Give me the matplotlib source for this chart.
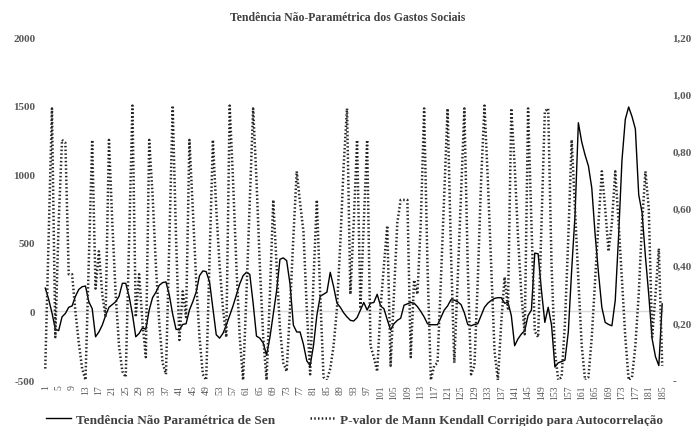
import matplotlib
matplotlib.use("Agg")
import matplotlib.pyplot as plt

# periods 1..185
periodos = list(range(1, 186))

# Tendência não paramétrica de Sen (eixo esquerdo)
sen = [
    170, 90, -10, -130, -140, -40, -15, 30, 40, 110,
    160, 180, 185, 70, 20, -185, -150, -100, -30, 30,
    50, 70, 110, 205, 205, 110, -20, -185, -160, -120,
    -130, 10, 100, 140, 190, 210, 215, 120, -20, -130,
    -135, -95, -90, 10, 70, 140, 260, 295, 290, 215,
    20, -170, -195, -160, -100, -30, 40, 120, 200, 260,
    285, 270, 60, -180, -195, -230, -320, -190, -20, 150,
    380, 390, 370, 200, -100, -150, -150, -240, -360, -395,
    -250, -30, 110, 125, 140, 285, 180, 60, 30, -10,
    -40, -65, -70, -45, 10, 65, 10, 60, 65, 125,
    40, 20, -60, -135, -90, -65, -50, 45, 55, 65,
    60, 35, 0, -40, -90, -97, -97, -97, -45, 10,
    40, 85, 82, 70, 50, -10, -95, -105, -95, -90,
    -30, 30, 60, 80, 95, 100, 100, 60, 65, -30,
    -250, -200, -165, -140, -30, 10, 425, 420, 150, -80,
    30, -100, -405, -375, -365, -355, -150, 300, 700, 1375,
    1235, 1140, 1060, 900, 560, 280, 30, -80, -95, -105,
    80, 550, 1100, 1400, 1490, 1420, 1330, 850, 720, 400,
    120, -200, -330, -395, 55,
]

# P-valor de Mann Kendall corrigido (eixo direito)
pvalor = [
    0.04, 0.50, 0.95, 0.15, 0.55, 0.84, 0.83, 0.37, 0.37, 0.24,
    0.13, 0.04, 0.00, 0.42, 0.84, 0.32, 0.45, 0.30, 0.22, 0.84,
    0.55, 0.30, 0.12, 0.03, 0.01, 0.48, 0.96, 0.22, 0.37, 0.20,
    0.08, 0.84, 0.65, 0.40, 0.20, 0.06, 0.02, 0.48, 0.96, 0.50,
    0.14, 0.31, 0.22, 0.84, 0.60, 0.35, 0.15, 0.02, 0.00, 0.42,
    0.84, 0.60, 0.40, 0.25, 0.15, 0.96, 0.70, 0.40, 0.15, 0.00,
    0.30, 0.62, 0.95, 0.70, 0.40, 0.15, 0.00, 0.30, 0.63, 0.40,
    0.18, 0.06, 0.03, 0.25, 0.50, 0.73, 0.62, 0.52, 0.25, 0.02,
    0.35, 0.63, 0.30, 0.01, 0.00, 0.04, 0.12, 0.25, 0.48, 0.75,
    0.95, 0.30, 0.55, 0.84, 0.25, 0.55, 0.84, 0.12, 0.08, 0.03,
    0.25, 0.40, 0.54, 0.05, 0.30, 0.55, 0.63, 0.63, 0.63, 0.08,
    0.35, 0.30, 0.55, 0.95, 0.40, 0.00, 0.05, 0.06, 0.35, 0.65,
    0.95, 0.45, 0.06, 0.35, 0.65, 0.95, 0.40, 0.02, 0.05, 0.35,
    0.70, 0.96, 0.70, 0.40, 0.10, 0.00, 0.20, 0.36, 0.25, 0.95,
    0.75, 0.50, 0.30, 0.16, 0.95, 0.55, 0.17, 0.15, 0.55, 0.94,
    0.95, 0.40, 0.10, 0.00, 0.01, 0.20, 0.50, 0.84, 0.60, 0.35,
    0.12, 0.00, 0.01, 0.15, 0.35, 0.55, 0.73, 0.60, 0.45, 0.55,
    0.73, 0.55, 0.35, 0.15, 0.00, 0.01, 0.12, 0.30, 0.55, 0.73,
    0.60, 0.15, 0.30, 0.46, 0.05,
]

left_ticks = [-500, 0, 500, 1000, 1500, 2000]
right_ticks = [0, 0.2, 0.4, 0.6, 0.8, 1.0, 1.2]
right_labels = ["-", "0,20", "0,40", "0,60", "0,80", "1,00", "1,20"]
x_ticks = list(range(1, 186, 4))

serif = ["Liberation Serif", "DejaVu Serif"]
gray = "#595959"

fig = plt.figure(figsize=(6.95, 4.27), dpi=100)
ax = fig.add_axes([0.0627, 0.1077, 0.8925, 0.8033])
ax2 = ax.twinx()

ax.axhline(0, color="#d9d9d9", lw=1, zorder=0)
l1, = ax.plot(periodos, sen, color="black", lw=1.0, zorder=3)
l2, = ax2.plot(periodos, pvalor, color="#262626", lw=1.8,
               linestyle=(0, (0.6, 0.9)), zorder=2)

ax.set_xlim(0.5, 185.5)
ax.set_ylim(-500, 2000)
ax2.set_ylim(0, 1.2)

ax.set_yticks(left_ticks)
ax.set_yticklabels([str(t) for t in left_ticks])
ax2.set_yticks(right_ticks)
ax2.set_yticklabels(right_labels)
ax.set_xticks(x_ticks)
ax.set_xticklabels([str(t) for t in x_ticks], rotation=90)

for a in (ax, ax2):
    for s in a.spines.values():
        s.set_visible(False)
ax.tick_params(axis="y", length=0, pad=6, labelcolor=gray)
ax2.tick_params(axis="y", length=0, pad=6, labelcolor=gray)
ax.tick_params(axis="x", length=0, pad=3, labelcolor=gray)
for lab in ax.get_yticklabels() + ax2.get_yticklabels():
    lab.set_family(serif)
    lab.set_fontweight("bold")
    lab.set_fontsize(8)
for lab in ax.get_xticklabels():
    lab.set_family(serif)
    lab.set_fontsize(7)

fig.text(0.5, 0.958, "Tendência Não-Paramétrica dos Gastos Sociais",
         ha="center", va="center", family=serif, fontweight="bold",
         fontsize=8.5, color="#404040")

fig.legend([l1, l2],
           ["Tendência Não Paramétrica de Sen",
            "P-valor de Mann Kendall Corrigido para Autocorrelação"],
           loc="center", bbox_to_anchor=(0.51, 0.015), ncol=2, frameon=False,
           prop={"family": serif, "weight": "bold", "size": 9.5},
           labelcolor="#404040", handlelength=1.9, columnspacing=2.6,
           handletextpad=0.4)

fig.savefig("out.png", dpi=100)
